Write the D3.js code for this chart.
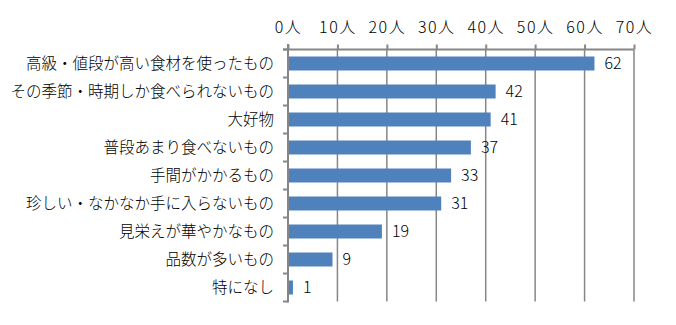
<!DOCTYPE html>
<html><head><meta charset="utf-8">
<script src="https://cdn.jsdelivr.net/npm/d3@7"></script>
<style>body{margin:0;background:#fff}svg{display:block}</style>
</head><body>
<script>
const categories = ["高級・値段が高い食材を使ったもの","その季節・時期しか食べられないもの","大好物","普段あまり食べないもの","手間がかかるもの","珍しい・なかなか手に入らないもの","見栄えが華やかなもの","品数が多いもの","特になし"];
const values = [62,42,41,37,33,31,19,9,1];
const tickValues = [0,10,20,30,40,50,60,70];
const tickLabels = ["0人","10人","20人","30人","40人","50人","60人","70人"];

const W=676,H=325;
const font = "'Noto Sans CJK JP', sans-serif";
const svg = d3.select("body").append("svg").attr("width",W).attr("height",H);
const x = d3.scaleLinear().domain([0,70]).range([288,634]);
const y = d3.scaleBand().domain(categories).range([49.5,301.5]).paddingInner(0.5).paddingOuter(0.25);
const grey="#868686";

// gridlines
svg.append("g").selectAll("line").data(tickValues.slice(1)).join("line")
  .attr("x1",d=>x(d)).attr("x2",d=>x(d)).attr("y1",49.5).attr("y2",301.5)
  .attr("stroke",grey).attr("stroke-width",1.5);

// bars
svg.append("g").selectAll("rect").data(values).join("rect")
  .attr("x",x(0)).attr("y",(d,i)=>y(categories[i]))
  .attr("width",d=>x(d)-x(0)).attr("height",y.bandwidth())
  .attr("fill","#4f81bd");

// top axis
const xAxis = d3.axisTop(x).tickValues(tickValues).tickFormat((d,i)=>tickLabels[i]).tickSize(5).tickPadding(12);
const gx = svg.append("g").attr("transform","translate(0,49.5)").call(xAxis);
gx.select(".domain").attr("stroke",grey).attr("stroke-width",2).attr("d","M283,0H634");
gx.selectAll(".tick line").attr("stroke",grey).attr("stroke-width",2);
gx.selectAll(".tick text").attr("font-family",font).attr("font-size",16).attr("letter-spacing","1.5px").attr("fill","#000").attr("font-weight",300);

// left axis with boundary ticks
const bounds = d3.range(categories.length+1).map(i=>49.5+i*y.step());
svg.append("line").attr("x1",288).attr("x2",288).attr("y1",44).attr("y2",302.5).attr("stroke",grey).attr("stroke-width",2);
svg.append("g").selectAll("line").data(bounds).join("line")
  .attr("x1",283).attr("x2",288).attr("y1",d=>d).attr("y2",d=>d)
  .attr("stroke",grey).attr("stroke-width",2);

// category labels
svg.append("g").selectAll("text").data(categories).join("text")
  .attr("x",274).attr("y",d=>y(d)+y.bandwidth()/2).attr("dy","0.36em")
  .attr("text-anchor","end").attr("font-family",font).attr("font-size",15.5).attr("font-weight",300).attr("fill","#000")
  .text(d=>d);

// value labels
svg.append("g").selectAll("text").data(values).join("text")
  .attr("x",d=>x(d)+10).attr("y",(d,i)=>y(categories[i])+y.bandwidth()/2).attr("dy","0.36em")
  .attr("font-family",font).attr("font-size",16).attr("font-weight",300).attr("fill","#000")
  .text(d=>d);
</script>
</body></html>
